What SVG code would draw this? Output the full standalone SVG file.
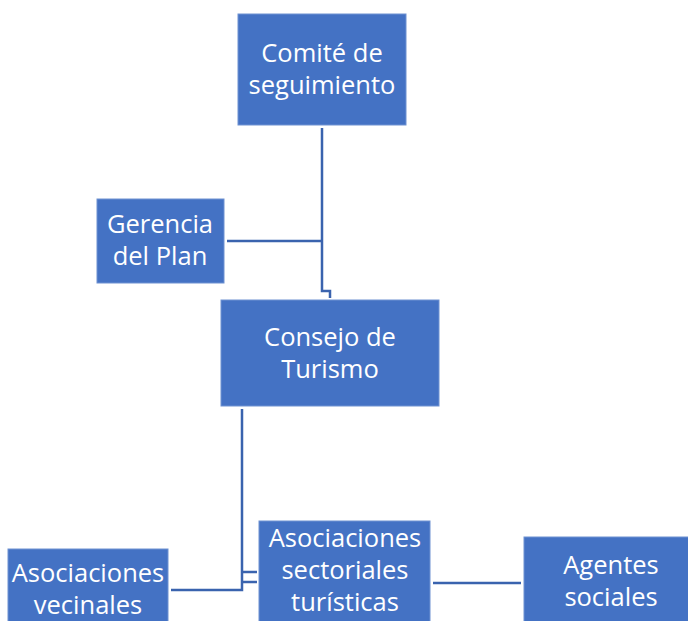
<svg xmlns="http://www.w3.org/2000/svg" width="688" height="621" viewBox="0 0 688 621">
<style>
.box{fill:#4472C4;stroke:#6E92D2;stroke-width:1}
.t{fill:#ffffff;font-family:"Open Sans","Liberation Sans",sans-serif;font-size:25.5px;text-anchor:middle}
.c{fill:none;stroke:#3A63AE;stroke-width:2.5}
</style>
<rect width="688" height="621" fill="#ffffff"/>
<g id="connectors">
<polyline class="c" points="322,128 322,291 330,291 330,298"/>
<polyline class="c" points="227,241 322,241"/>
<polyline class="c" points="242,409 242,590 171,590"/>
<line class="c" x1="243" y1="572" x2="257" y2="572"/>
<line class="c" x1="243" y1="582" x2="257" y2="582"/>
<line class="c" x1="433" y1="583" x2="521" y2="583"/>
</g>
<g id="comite">
<rect class="box" x="238" y="14" width="168" height="111"/>
<text class="t" x="322" y="62">Comité de</text>
<text class="t" x="322" y="94">seguimiento</text>
</g>
<g id="gerencia">
<rect class="box" x="97" y="199" width="127" height="84"/>
<text class="t" x="160" y="233">Gerencia</text>
<text class="t" x="160" y="265">del Plan</text>
</g>
<g id="consejo">
<rect class="box" x="221" y="300" width="218" height="106"/>
<text class="t" x="330" y="346">Consejo de</text>
<text class="t" x="330" y="378">Turismo</text>
</g>
<g id="vecinales">
<rect class="box" x="8" y="549" width="160" height="80"/>
<text class="t" x="88" y="582">Asociaciones</text>
<text class="t" x="88" y="614">vecinales</text>
</g>
<g id="sectoriales">
<rect class="box" x="259" y="521" width="171" height="108"/>
<text class="t" x="345" y="547">Asociaciones</text>
<text class="t" x="345" y="579">sectoriales</text>
<text class="t" x="345" y="611">turísticas</text>
</g>
<g id="agentes">
<rect class="box" x="524" y="537" width="170" height="92"/>
<text class="t" x="611" y="574">Agentes</text>
<text class="t" x="611" y="606">sociales</text>
</g>
</svg>
